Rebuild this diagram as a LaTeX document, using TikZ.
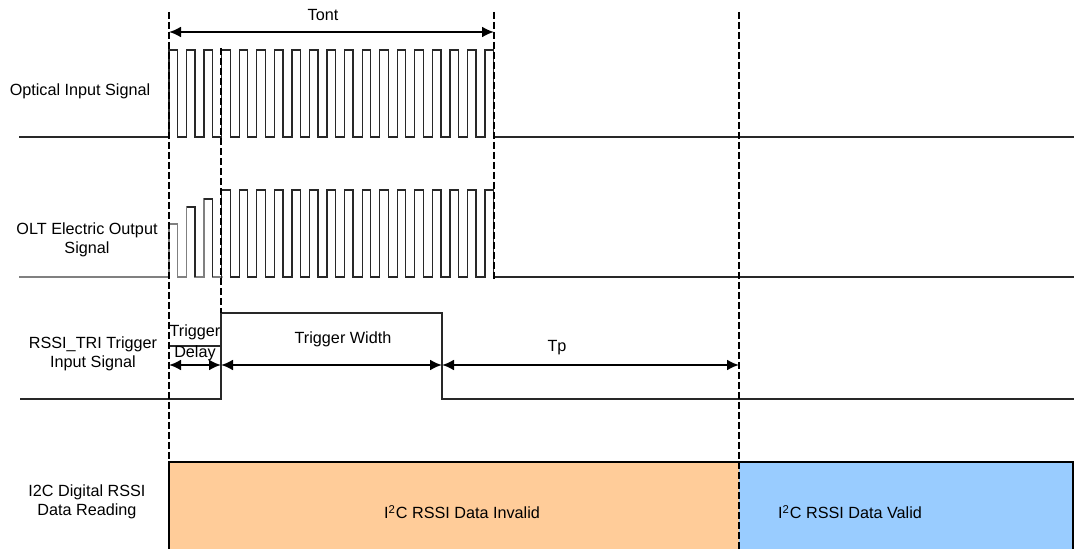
\documentclass[tikz,border=0pt]{standalone}
\usepackage{fontspec}
\setmainfont{Liberation Sans}
\usetikzlibrary{arrows,arrows.meta}
\definecolor{Inv}{RGB}{255, 204, 153}
\definecolor{Val}{RGB}{153, 204, 255}
\definecolor{Sig}{RGB}{40, 40, 40}
\tikzset{
  sig/.style={Sig, line width=0.65pt},
  tick/.style={black, line width=1pt, dash pattern=on 3.5pt off 1.5pt},
  dim/.style={black, line width=1.1pt, {Latex[length=6pt,width=5.5pt]}-{Latex[length=6pt,width=5.5pt]}},
  lbl/.style={font=\fontsize{8.1}{9.8}\selectfont, align=center, inner sep=0pt}
}
\begin{document}
\begin{tikzpicture}[x=0.5pt, y=-0.5pt]
  \useasboundingbox (0,0) rectangle (1076,549);
  % data reading boxes
  \fill[Inv] (169,462) rectangle (739,549);
  \fill[Val] (739,462) rectangle (1073,549);
  \draw[black, line width=0.65pt] (169,549) -- (169,462) -- (1073,462) -- (1073,549);
  % optical input
  \draw[sig] (19,137) foreach \k in {0,...,18}{
      -- ({169+\k*17.56},137) -- ({169+\k*17.56},50)
      -- ({177.5+\k*17.56},50) -- ({177.5+\k*17.56},137)} -- (1074,137);
  % OLT electric output
  \draw[sig, gray] (19,277) -- (169,277) -- (169,224) -- (177.5,224) -- (177.5,277)
      -- (186.6,277) -- (186.6,207) -- (195.1,207) -- (195.1,277)
      -- (204.1,277) -- (204.1,199) -- (212.6,199) -- (212.6,277) -- (221.7,277);
  \draw[sig] (186.6,207) -- (195.1,207) -- (195.1,277);
  \draw[sig] (204.1,199) -- (212.6,199) -- (212.6,277);
  \draw[sig] (221.7,277) foreach \k in {3,...,18}{
      -- ({169+\k*17.56},277) -- ({169+\k*17.56},190)
      -- ({177.5+\k*17.56},190) -- ({177.5+\k*17.56},277)} -- (1074,277);
  % RSSI_TRI trigger
  \draw[sig] (20,399) -- (221,399) -- (221,313) -- (442,313) -- (442,399) -- (1074,399);
  \draw[sig] (169,346) -- (221,346);
  % time marks
  \coordinate (t0) at (169,12);
  \coordinate (t0b) at (169,549);
  \coordinate (t1) at (221,48);
  \coordinate (t1b) at (221,313);
  \coordinate (t2) at (494,12);
  \coordinate (t2b) at (494,280);
  \coordinate (t3) at (739,12);
  \coordinate (t3b) at (739,549);
  \draw[tick] (t0) -- (t0b);
  \draw[tick] (t1) -- (t1b);
  \draw[tick] (t2) -- (t2b);
  \draw[tick] (t3) -- (t3b);
  % dimensions
  \coordinate (on0) at (169,32);
  \coordinate (on1) at (494,32);
  \coordinate (dA) at (169,365);
  \coordinate (dB) at (221,365);
  \coordinate (dC) at (442,365);
  \coordinate (dD) at (739,365);
  \draw[dim] (on0) -- (on1);
  \draw[dim] (dA) -- (dB);
  \draw[dim] (dB) -- (dC);
  \draw[dim] (dC) -- (dD);
  \node[lbl] (tont) at (323,15) {Tont};
  \node[lbl] (trig) at (195,332) {Trigger};
  \node[lbl] (dly) at (195,353) {Delay};
  \node[lbl] (tw) at (343,339) {Trigger Width};
  \node[lbl] (tp) at (557,348) {Tp};
  % row names
  \node[lbl] (opt) at (80,91) {Optical Input Signal};
  \node[lbl] (olt) at (87,240) {OLT Electric Output\\Signal};
  \node[lbl] (rssi) at (93,354) {RSSI\_TRI Trigger\\Input Signal};
  \node[lbl] (i2c) at (87,502) {I2C Digital RSSI\\Data Reading};
  \node[lbl] (inv) at (462,512) {I\textsuperscript{2}C RSSI Data Invalid};
  \node[lbl] (val) at (850,512) {I\textsuperscript{2}C RSSI Data Valid};
\end{tikzpicture}
\end{document}
